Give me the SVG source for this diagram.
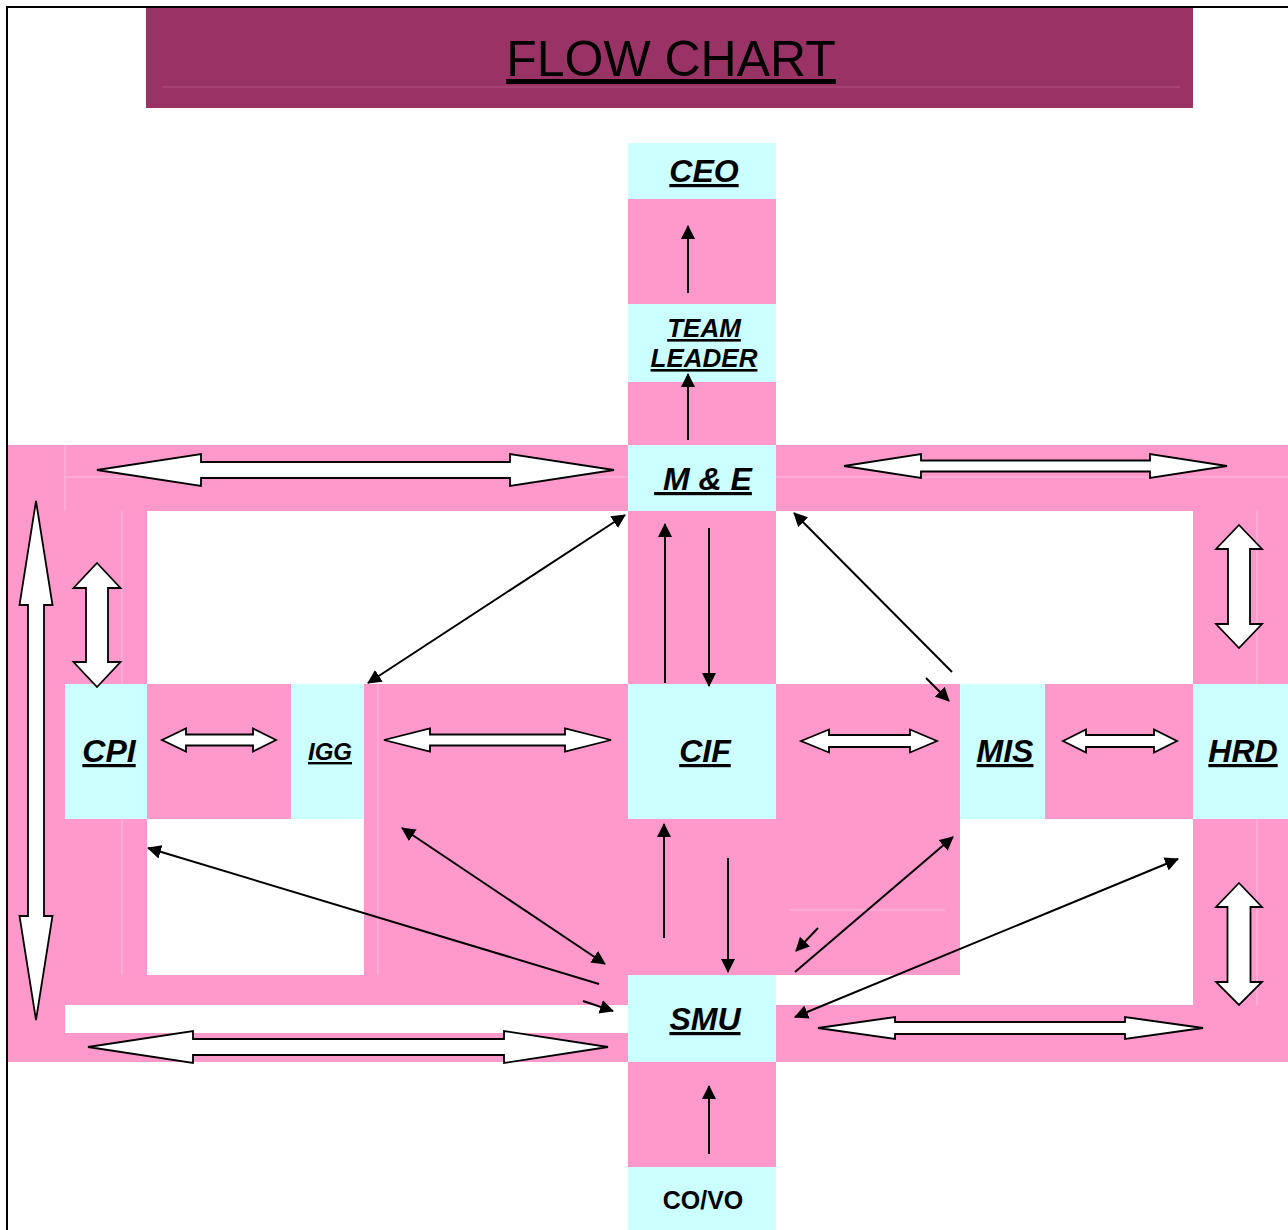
<svg xmlns="http://www.w3.org/2000/svg" width="1288" height="1230" viewBox="0 0 1288 1230">
<style>
.pk{fill:#FF99CC}
.cy{fill:#CCFFFF}
.seam{stroke:#FFBBDD;stroke-width:1;fill:none}
.lbl{font-family:"Liberation Sans",Arial,sans-serif;font-weight:bold;font-style:italic;text-decoration:underline;text-anchor:middle;fill:#000}
.plain{font-family:"Liberation Sans",Arial,sans-serif;font-weight:bold;text-anchor:middle;fill:#000}
.blk{fill:#FFFFFF;stroke:#000;stroke-width:1.8;stroke-linejoin:miter}
.ln{stroke:#000;stroke-width:2;fill:none}
.one{marker-end:url(#ah)}
.two{marker-start:url(#ah);marker-end:url(#ah)}
</style>
<defs>
<marker id="ah" viewBox="0 0 14 14" markerWidth="14" markerHeight="14" refX="13" refY="7" orient="auto-start-reverse" markerUnits="userSpaceOnUse">
<path d="M0,0 L14,7 L0,14 Z" fill="#000"/>
</marker>
</defs>
<rect x="0" y="0" width="1288" height="1230" fill="#FFFFFF"/>
<g id="frame">
<path d="M7,1230 L7,7 L1288,7" fill="none" stroke="#000" stroke-width="2"/>
</g>
<g id="header">
<rect x="146" y="8" width="1047" height="100" fill="#993366"/>
<line x1="162" y1="87" x2="1180" y2="87" stroke="#B0527F" stroke-width="1"/>
<text x="671" y="76" font-family="Liberation Sans,Arial,sans-serif" font-size="50" text-anchor="middle" text-decoration="underline" fill="#000">FLOW CHART</text>
</g>
<g id="bands">
<rect class="pk" x="8" y="445" width="57" height="617"/>
<rect class="pk" x="65" y="445" width="563" height="66"/>
<rect class="pk" x="65" y="511" width="82" height="173"/>
<rect class="pk" x="147" y="684" width="144" height="135"/>
<rect class="pk" x="65" y="819" width="82" height="156"/>
<rect class="pk" x="364" y="684" width="264" height="291"/>
<rect class="pk" x="65" y="975" width="563" height="30"/>
<rect class="pk" x="65" y="1033" width="563" height="29"/>
<rect class="pk" x="628" y="199" width="148" height="105"/>
<rect class="pk" x="628" y="382" width="148" height="63"/>
<rect class="pk" x="628" y="511" width="148" height="173"/>
<rect class="pk" x="628" y="819" width="148" height="156"/>
<rect class="pk" x="628" y="1062" width="148" height="105"/>
<rect class="pk" x="776" y="445" width="512" height="66"/>
<rect class="pk" x="1193" y="511" width="95" height="173"/>
<rect class="pk" x="776" y="684" width="184" height="291"/>
<rect class="pk" x="1045" y="684" width="148" height="135"/>
<rect class="pk" x="1193" y="819" width="95" height="186"/>
<rect class="pk" x="776" y="1005" width="512" height="57"/>
</g>
<g id="seams">
<line class="seam" x1="65" y1="477" x2="628" y2="477"/>
<line class="seam" x1="776" y1="477" x2="1288" y2="477"/>
<line class="seam" x1="65" y1="445" x2="65" y2="511"/>
<line class="seam" x1="122" y1="511" x2="122" y2="684"/>
<line class="seam" x1="122" y1="819" x2="122" y2="975"/>
<line class="seam" x1="378" y1="684" x2="378" y2="975"/>
<line class="seam" x1="1257" y1="511" x2="1257" y2="684"/>
<line class="seam" x1="1257" y1="819" x2="1257" y2="1005"/>
<line class="seam" x1="790" y1="910" x2="945" y2="910"/>
</g>
<g id="node-ceo">
<rect class="cy" x="628" y="143" width="148" height="56"/>
<text class="lbl" x="704" y="182" font-size="32">CEO</text>
</g>
<g id="node-team-leader">
<rect class="cy" x="628" y="304" width="148" height="78"/>
<text class="lbl" x="704" y="337" font-size="26">TEAM</text>
<text class="lbl" x="704" y="367" font-size="26">LEADER</text>
</g>
<g id="node-me">
<rect class="cy" x="628" y="445" width="148" height="66"/>
<text class="lbl" x="703" y="490" font-size="32" xml:space="preserve"> M &amp; E</text>
</g>
<g id="node-cpi">
<rect class="cy" x="65" y="684" width="82" height="135"/>
<text class="lbl" x="109" y="762" font-size="32">CPI</text>
</g>
<g id="node-igg">
<rect class="cy" x="291" y="684" width="73" height="135"/>
<text class="lbl" x="330" y="760" font-size="24">IGG</text>
</g>
<g id="node-cif">
<rect class="cy" x="628" y="684" width="148" height="135"/>
<text class="lbl" x="705" y="762" font-size="32">CIF</text>
</g>
<g id="node-mis">
<rect class="cy" x="960" y="684" width="85" height="135"/>
<text class="lbl" x="1005" y="762" font-size="32">MIS</text>
</g>
<g id="node-hrd">
<rect class="cy" x="1193" y="684" width="95" height="135"/>
<text class="lbl" x="1243" y="762" font-size="32">HRD</text>
</g>
<g id="node-smu">
<rect class="cy" x="628" y="975" width="148" height="87"/>
<text class="lbl" x="705" y="1030" font-size="32">SMU</text>
</g>
<g id="node-covo">
<rect class="cy" x="628" y="1167" width="148" height="63"/>
<text class="plain" x="703" y="1209" font-size="25">CO/VO</text>
</g>
<g id="connectors">
<path class="blk" d="M97,470 L201,454 L201,462 L510,462 L510,454 L614,470 L510,486 L510,478 L201,478 L201,486 Z"/>
<path class="blk" d="M844,466 L921,454 L921,460.5 L1150,460.5 L1150,454 L1227,466 L1150,478 L1150,471.5 L921,471.5 L921,478 Z"/>
<path class="blk" d="M88,1047 L193,1031 L193,1039 L504,1039 L504,1031 L608,1047 L504,1063 L504,1055 L193,1055 L193,1063 Z"/>
<path class="blk" d="M818,1028 L895,1017 L895,1022 L1125,1022 L1125,1017 L1203,1028 L1125,1039 L1125,1034 L895,1034 L895,1039 Z"/>
<path class="blk" d="M162,740 L186,728.5 L186,734.5 L253,734.5 L253,728.5 L276,740 L253,751.5 L253,745.5 L186,745.5 L186,751.5 Z"/>
<path class="blk" d="M384,740 L430,728.5 L430,734.5 L565,734.5 L565,728.5 L611,740 L565,751.5 L565,745.5 L430,745.5 L430,751.5 Z"/>
<path class="blk" d="M801,741 L829,729.5 L829,735 L910,735 L910,729.5 L937,741 L910,752.5 L910,747 L829,747 L829,752.5 Z"/>
<path class="blk" d="M1063,741 L1086,729.5 L1086,735 L1154,735 L1154,729.5 L1177,741 L1154,752.5 L1154,747 L1086,747 L1086,752.5 Z"/>
<path class="blk" d="M36,501 L52.5,605 L44,605 L44,916 L52.5,916 L36,1020 L19.5,916 L28,916 L28,605 L19.5,605 Z"/>
<path class="blk" d="M97,563 L120.5,588 L108,588 L108,662 L120.5,662 L97,687 L73.5,662 L86,662 L86,588 L73.5,588 Z"/>
<path class="blk" d="M1239,525 L1262,549 L1250,549 L1250,624 L1262,624 L1239,648 L1216,624 L1228,624 L1228,549 L1216,549 Z"/>
<path class="blk" d="M1239,883 L1262,907 L1250.5,907 L1250.5,982 L1262,982 L1239,1005 L1216,982 L1227.5,982 L1227.5,907 L1216,907 Z"/>
<line class="ln one" x1="688" y1="293" x2="688" y2="226"/>
<line class="ln one" x1="688" y1="440" x2="688" y2="374"/>
<line class="ln two" x1="368" y1="683" x2="625" y2="515"/>
<line class="ln one" x1="665" y1="683" x2="665" y2="524"/>
<line class="ln one" x1="709" y1="528" x2="709" y2="686"/>
<line class="ln one" x1="952" y1="672" x2="794" y2="513"/>
<line class="ln one" x1="926" y1="678" x2="949" y2="701"/>
<line class="ln one" x1="664" y1="938" x2="664" y2="824"/>
<line class="ln one" x1="728" y1="858" x2="728" y2="972"/>
<line class="ln two" x1="402" y1="828" x2="605" y2="964"/>
<line class="ln one" x1="599" y1="984" x2="148" y2="848"/>
<line class="ln one" x1="583" y1="1001" x2="613" y2="1011"/>
<line class="ln one" x1="795" y1="972" x2="953" y2="837"/>
<line class="ln one" x1="818" y1="928" x2="796" y2="951"/>
<line class="ln two" x1="795" y1="1017" x2="1178" y2="859"/>
<line class="ln one" x1="709" y1="1154" x2="709" y2="1086"/>
</g>
</svg>
